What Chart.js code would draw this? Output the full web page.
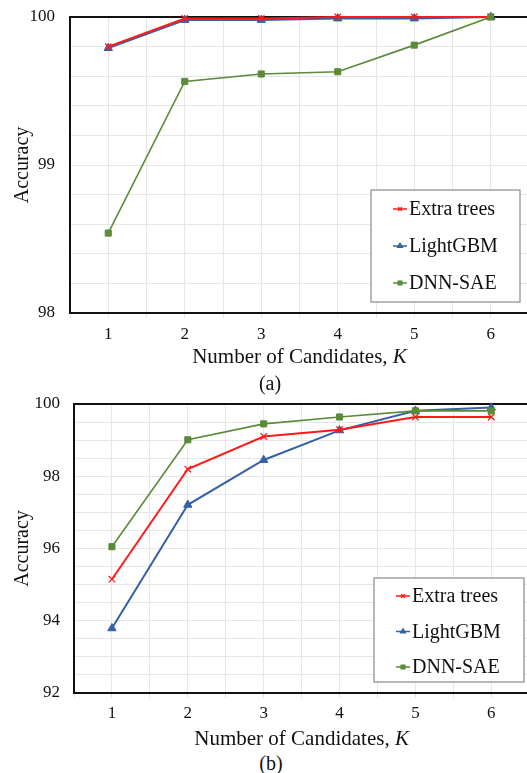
<!DOCTYPE html>
<html>
<head>
<meta charset="utf-8">
<script src="https://cdn.jsdelivr.net/npm/chart.js@4.4.0/dist/chart.umd.min.js"></script>
<style>
  html, body { margin: 0; padding: 0; background: #fff; overflow: hidden; }
  body { width: 527px; height: 773px; position: relative; }
  .wrap { position: absolute; left: 0; width: 535px; }
  .cap { position: absolute; width: 40px; text-align: center; font: 20px 'Liberation Serif', 'Times New Roman', serif; color: #111; line-height: 20px; }
</style>
</head>
<body>
<div class="wrap" style="top:0;height:370px"><canvas id="chartA" width="535" height="370"></canvas></div>
<div class="wrap" style="top:390px;height:360px"><canvas id="chartB" width="535" height="360"></canvas></div>
<div class="cap" style="left:250px;top:373px">(a)</div>
<div class="cap" style="left:251px;top:753px">(b)</div>
<script>
// data
const candidates = [1, 2, 3, 4, 5, 6];
const seriesNames = ['Extra trees', 'LightGBM', 'DNN-SAE'];

const extraTreesA = [99.80, 99.99, 99.99, 100.0, 100.0, 100.0];
const lightGbmA = [99.79, 99.98, 99.98, 99.99, 99.99, 100.0];
const dnnSaeA = [98.54, 99.565, 99.615, 99.63, 99.81, 100.0];

const extraTreesB = [95.15, 98.2, 99.1, 99.29, 99.64, 99.64];
const lightGbmB = [93.79, 97.21, 98.45, 99.27, 99.81, 99.9];
const dnnSaeB = [96.05, 99.01, 99.45, 99.64, 99.81, 99.81];

const yTicksA = [98, 99, 100];
const yTicksB = [92, 94, 96, 98, 100];

const serif = "'Liberation Serif', 'Times New Roman', serif";
const RED = '#ff1a1a', BLUE = '#3560a8', GREEN = '#5a8a3a';

const styles = [
    { color: RED, pointStyle: 'crossRot', radius: 4.5, borderWidth: 1.3, lineWidth: 2, order: 1 },
    { color: BLUE, pointStyle: 'triangle', radius: 4.8, borderWidth: 1, lineWidth: 2, order: 2 },
    { color: GREEN, pointStyle: 'rect', radius: 4.3, borderWidth: 1, lineWidth: 1.6, order: 0 }
];

function pts(values) {
    return candidates.map((k, i) => ({ x: k, y: values[i] }));
}

function makeDatasets(lists) {
    return lists.map((vals, i) => {
        const s = styles[i];
        return {
            label: seriesNames[i],
            data: pts(vals),
            borderColor: s.color,
            backgroundColor: s.color,
            borderWidth: s.lineWidth,
            pointStyle: s.pointStyle,
            pointRadius: s.radius,
            pointBorderWidth: s.borderWidth,
            pointBackgroundColor: s.color,
            pointBorderColor: s.color,
            tension: 0,
            clip: false,
            order: s.order
        };
    });
}

// legend box inside plot + x title with italic K
const boxLegend = {
    id: 'boxLegend',
    afterDraw(chart, args, opts) {
        const ctx = chart.ctx;
        ctx.save();
        ctx.fillStyle = '#fff';
        ctx.fillRect(opts.left, opts.top, opts.width, opts.height);
        ctx.strokeStyle = '#8a8a8a';
        ctx.lineWidth = 1.2;
        ctx.strokeRect(opts.left, opts.top, opts.width, opts.height);
        seriesNames.forEach((name, i) => {
            const s = styles[i];
            const y = opts.top + opts.first + i * opts.gap;
            const x0 = opts.left + 22, x1 = x0 + 14;
            ctx.strokeStyle = s.color;
            ctx.fillStyle = s.color;
            ctx.lineWidth = 1.5;
            ctx.beginPath();
            ctx.moveTo(x0, y);
            ctx.lineTo(x1, y);
            ctx.stroke();
            Chart.helpers.drawPoint(ctx, { pointStyle: s.pointStyle, radius: 2.6, borderWidth: 1, rotation: 0 }, (x0 + x1) / 2, y);
            ctx.fillStyle = '#111';
            ctx.font = '20px ' + serif;
            ctx.textBaseline = 'middle';
            ctx.textAlign = 'left';
            ctx.fillText(name, x1 + 2, y + 1);
        });

        // x axis title
        const area = chart.chartArea;
        const part1 = 'Number of Candidates, ';
        ctx.font = '21px ' + serif;
        const w1 = ctx.measureText(part1).width;
        ctx.font = 'italic 21px ' + serif;
        const w2 = ctx.measureText('K').width;
        const cx = (area.left + area.right) / 2;
        const ty = area.bottom + opts.titleOffset;
        let x = cx - (w1 + w2) / 2;
        ctx.fillStyle = '#111';
        ctx.font = '21px ' + serif;
        ctx.fillText(part1, x, ty);
        ctx.font = 'italic 21px ' + serif;
        ctx.fillText('K', x + w1, ty);
        ctx.restore();
    }
};

function near(v, list) {
    return list.some(t => Math.abs(v - t) < 1e-6);
}

function makeChart(id, lists, yMin, yMax, yStep, yLabels, yWidth, yPad, pad, legendOpts, tickPad) {
    return new Chart(document.getElementById(id).getContext('2d'), {
        type: 'line',
        data: { datasets: makeDatasets(lists) },
        plugins: [boxLegend],
        options: {
            responsive: false,
            animation: false,
            layout: { padding: { top: pad, left: 0, right: 5, bottom: 0 } },
            plugins: {
                legend: { display: false },
                tooltip: { enabled: false },
                boxLegend: legendOpts
            },
            scales: {
                x: {
                    type: 'linear',
                    min: 0.5,
                    max: 6.5,
                    afterFit: s => { s.height = 57; },
                    border: { color: '#111', width: 2 },
                    grid: { color: '#e6e6e6', lineWidth: 1, tickLength: 5, drawTicks: true },
                    ticks: {
                        stepSize: 0.5,
                        autoSkip: false,
                        maxRotation: 0,
                        padding: tickPad,
                        color: '#111',
                        font: { family: serif, size: 17 },
                        callback: v => near(v, candidates) ? String(Math.round(v)) : ''
                    }
                },
                y: {
                    min: yMin,
                    max: yMax,
                    afterFit: s => { s.width = yWidth; s.paddingTop = 0; s.paddingBottom = 0; },
                    border: { color: '#111', width: 2 },
                    grid: {
                        drawTicks: false,
                        color: c => (c.tick && Math.abs(c.tick.value - yMax) < 1e-6) ? '#111' : '#e6e6e6',
                        lineWidth: c => (c.tick && Math.abs(c.tick.value - yMax) < 1e-6) ? 2 : 1
                    },
                    ticks: {
                        stepSize: yStep,
                        autoSkip: false,
                        padding: yPad,
                        color: '#111',
                        font: { family: serif, size: 17 },
                        callback: v => near(v, yLabels) ? String(Math.round(v)) : ''
                    },
                    title: {
                        display: true,
                        text: 'Accuracy',
                        color: '#111',
                        font: { family: serif, size: 20 },
                        padding: { top: 11, bottom: 0 }
                    }
                }
            }
        }
    });
}

makeChart('chartA', [extraTreesA, lightGbmA, dnnSaeA], 98, 100, 0.2, yTicksA, 70, 15, 17,
    { left: 371, top: 190, width: 149, height: 112, first: 19, gap: 37, titleOffset: 44 }, 6);

makeChart('chartB', [extraTreesB, lightGbmB, dnnSaeB], 92, 100, 0.5, yTicksB, 74, 14, 14,
    { left: 374, top: 188, width: 150, height: 104, first: 18, gap: 35.5, titleOffset: 46 }, 5);
</script>
</body>
</html>
